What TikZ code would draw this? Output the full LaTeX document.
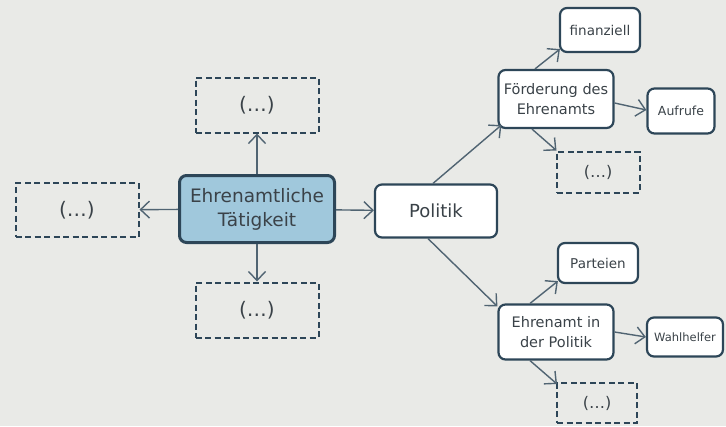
\documentclass[tikz,border=0pt]{standalone}
\usepackage{fontspec}
\setmainfont{DejaVu Sans}
\definecolor{mpbg}{RGB}{233,234,231}
\definecolor{mpline}{RGB}{45,70,88}
\definecolor{mparrow}{RGB}{80,100,114}
\definecolor{mptext}{RGB}{58,66,72}
\definecolor{mpblue}{RGB}{160,200,220}
\usetikzlibrary{arrows.meta,positioning}

\begin{document}
\begin{tikzpicture}[x=1pt,y=-1pt,
  box/.style={draw=mpline,line width=2.2pt,rounded corners=7pt,fill=white,text=mptext,align=center,inner sep=0pt},
  dbox/.style={draw=mpline,line width=2pt,dash pattern=on 6pt off 3.5pt,fill=mpbg,text=mptext,inner sep=0pt},
  conn/.style={draw=mparrow,line width=1.4pt,-{Straight Barb[length=9pt,width=17pt]}}]
  \fill[mpbg] (0,0) rectangle (726,426);
  \useasboundingbox (0,0) rectangle (726,426);
  % centre
  \node[box,fill=mpblue,line width=3pt,minimum width=155,minimum height=67,font=\fontsize{18.5}{24}\selectfont] (eht) at (257,209) {Ehrenamtliche\\Tätigkeit};
  \node[dbox,minimum width=123,minimum height=54,font=\fontsize{20}{22}\selectfont] (dl) at (77,210) {(\dots)};
  \node[dbox,minimum width=123,minimum height=55,font=\fontsize{20}{22}\selectfont] (dt) at (257,105) {(\dots)};
  \node[dbox,minimum width=123,minimum height=55,font=\fontsize{20}{22}\selectfont] (db) at (257,310) {(\dots)};
  \node[box,minimum width=122,minimum height=53,font=\fontsize{18}{20}\selectfont] (pol) at (436,211) {Politik};
  % upper branch
  \node[box,minimum width=115,minimum height=58,font=\fontsize{14.5}{20}\selectfont] (foe) at (556,99) {Förderung des\\Ehrenamts};
  \node[box,minimum width=80,minimum height=44,font=\fontsize{13.5}{15}\selectfont] (fin) at (600,30) {finanziell};
  \node[box,minimum width=67,minimum height=45,font=\fontsize{12.5}{15}\selectfont] (auf) at (681,111) {Aufrufe};
  \node[dbox,minimum width=83,minimum height=41,font=\fontsize{16}{18}\selectfont] (df) at (598,172) {(\dots)};
  % lower branch
  \node[box,minimum width=115,minimum height=55,font=\fontsize{14.5}{20}\selectfont] (ehp) at (556,332) {Ehrenamt in\\der Politik};
  \node[box,minimum width=80,minimum height=40,font=\fontsize{13.5}{15}\selectfont] (par) at (598,263) {Parteien};
  \node[box,minimum width=76,minimum height=39,font=\fontsize{11.5}{13}\selectfont] (wah) at (685,337) {Wahlhelfer};
  \node[dbox,minimum width=80,minimum height=40,font=\fontsize{16}{18}\selectfont] (de) at (597,403) {(\dots)};
  % connectors
  \draw[conn] (eht) -- (dl);
  \draw[conn] (eht) -- (dt);
  \draw[conn] (eht) -- (db);
  \draw[conn] (eht) -- (pol);
  \draw[conn] ([xshift=-3pt]pol.north) -- ([xshift=4pt,yshift=4pt]foe.south west);
  \draw[conn] ([xshift=-8pt]pol.south) -- ([yshift=-3pt]ehp.north west);
  \draw[conn] ([xshift=-21pt]foe.north) -- ([xshift=1pt,yshift=4pt]fin.south west);
  \draw[conn] ([yshift=-4pt]foe.east) -- ([yshift=1pt]auf.west);
  \draw[conn] ([xshift=-24pt]foe.south) -- ([xshift=1pt]df.north west);
  \draw[conn] ([xshift=-26pt]ehp.north) -- ([xshift=1pt,yshift=3pt]par.south west);
  \draw[conn] (ehp.east) -- (wah.west);
  \draw[conn] ([xshift=-26pt]ehp.south) -- ([xshift=1pt,yshift=-2pt]de.north west);
\end{tikzpicture}
\end{document}
